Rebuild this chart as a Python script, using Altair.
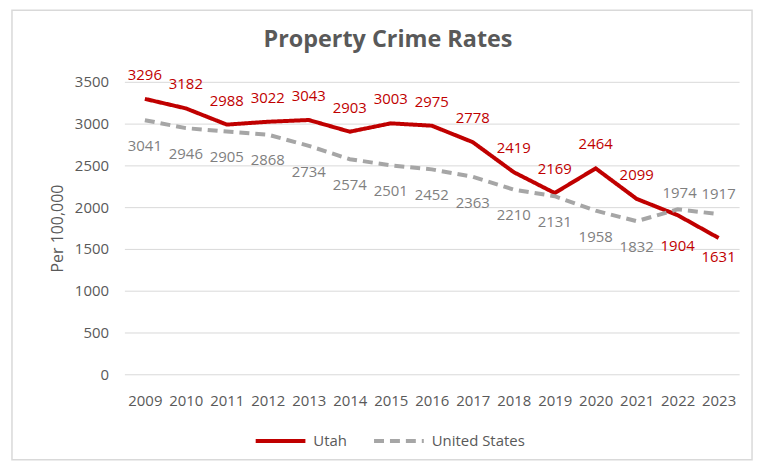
import altair as alt
import pandas as pd

years = [2009, 2010, 2011, 2012, 2013, 2014, 2015, 2016, 2017, 2018, 2019, 2020, 2021, 2022, 2023]
utah = [3296, 3182, 2988, 3022, 3043, 2903, 3003, 2975, 2778, 2419, 2169, 2464, 2099, 1904, 1631]
us = [3041, 2946, 2905, 2868, 2734, 2574, 2501, 2452, 2363, 2210, 2131, 1958, 1832, 1974, 1917]
series_names = ["Utah", "United States"]

df = pd.concat([
    pd.DataFrame({"year": years, "value": utah, "series": "Utah"}),
    pd.DataFrame({"year": years, "value": us, "series": "United States"}),
])

RED = "#C00000"
GRAY = "#A6A6A6"
TXT = "#595959"
FONT = "Open Sans"

x_enc = alt.X("year:O", title=None,
              axis=alt.Axis(labelAngle=0, labelFontSize=15, labelColor=TXT, labelFont=FONT,
                            ticks=False, domain=False, grid=False, labelPadding=19))
y_enc = alt.Y("value:Q", title="Per 100,000",
              scale=alt.Scale(domain=[0, 3500], nice=False),
              axis=alt.Axis(values=[0, 500, 1000, 1500, 2000, 2500, 3000, 3500], format="d",
                            labelFontSize=15, labelColor=TXT, labelFont=FONT,
                            ticks=False, domain=False, grid=True, gridColor="#D9D9D9",
                            labelPadding=16, titleFontSize=16, titleColor=TXT,
                            titleFont=FONT, titleFontWeight="normal", titlePadding=9))

legend = alt.Legend(title=None, orient="none", legendX=130, legendY=334,
                    direction="horizontal", symbolType="stroke", symbolSize=2500,
                    symbolStrokeWidth=4, labelFontSize=15, labelColor=TXT, labelFont=FONT,
                    columnPadding=19, labelOffset=6)

base = alt.Chart(df)

lines = base.mark_line(strokeWidth=4).encode(
    x=x_enc, y=y_enc,
    color=alt.Color("series:N", scale=alt.Scale(domain=series_names, range=[RED, GRAY]),
                    legend=legend, sort=series_names),
    strokeDash=alt.StrokeDash("series:N", scale=alt.Scale(domain=series_names, range=[[1, 0], [10, 6]]),
                              legend=legend, sort=series_names),
    order=alt.Order("year:O"),
)

def labels(series, yrs, dy, color, dx=0):
    expr = "datum.series == '%s' && indexof(%s, datum.year) >= 0" % (series, str(list(yrs)))
    return base.transform_filter(expr).mark_text(
        dy=dy, dx=dx, fontSize=15, font=FONT, color=color, baseline="middle"
    ).encode(x="year:O", y="value:Q", text=alt.Text("value:Q", format="d"))

ut_above = labels("Utah", years[:13], -24, RED)
ut_2022 = labels("Utah", [2022], 31, RED)
ut_2023 = labels("Utah", [2023], 19, RED)
us_below = labels("United States", years[:13], 26, "#7F7F7F")
us_2022 = labels("United States", [2022], -16, "#7F7F7F", dx=2)
us_2023 = labels("United States", [2023], -20, "#7F7F7F")

frame = alt.Chart(pd.DataFrame({"a": [0]})).mark_rect(
    fill=None, stroke="#D9D9D9", strokeWidth=1.5
).encode(x=alt.value(-113), x2=alt.value(631), y=alt.value(-72), y2=alt.value(380))

chart = alt.layer(frame, lines, ut_above, ut_2022, ut_2023, us_below, us_2022, us_2023).properties(
    width=618, height=294,
    title=alt.TitleParams("Property Crime Rates", fontSize=23.5, font=FONT, fontWeight="bold",
                          color=TXT, anchor="middle", frame="group", dx=-44, offset=-42),
    autosize=alt.AutoSizeParams(type="none"),
    padding={"left": 117, "top": 73, "right": 20, "bottom": 90},
).configure_view(stroke=None)

chart.save("out.html", embed_options={"renderer": "svg", "actions": False})
